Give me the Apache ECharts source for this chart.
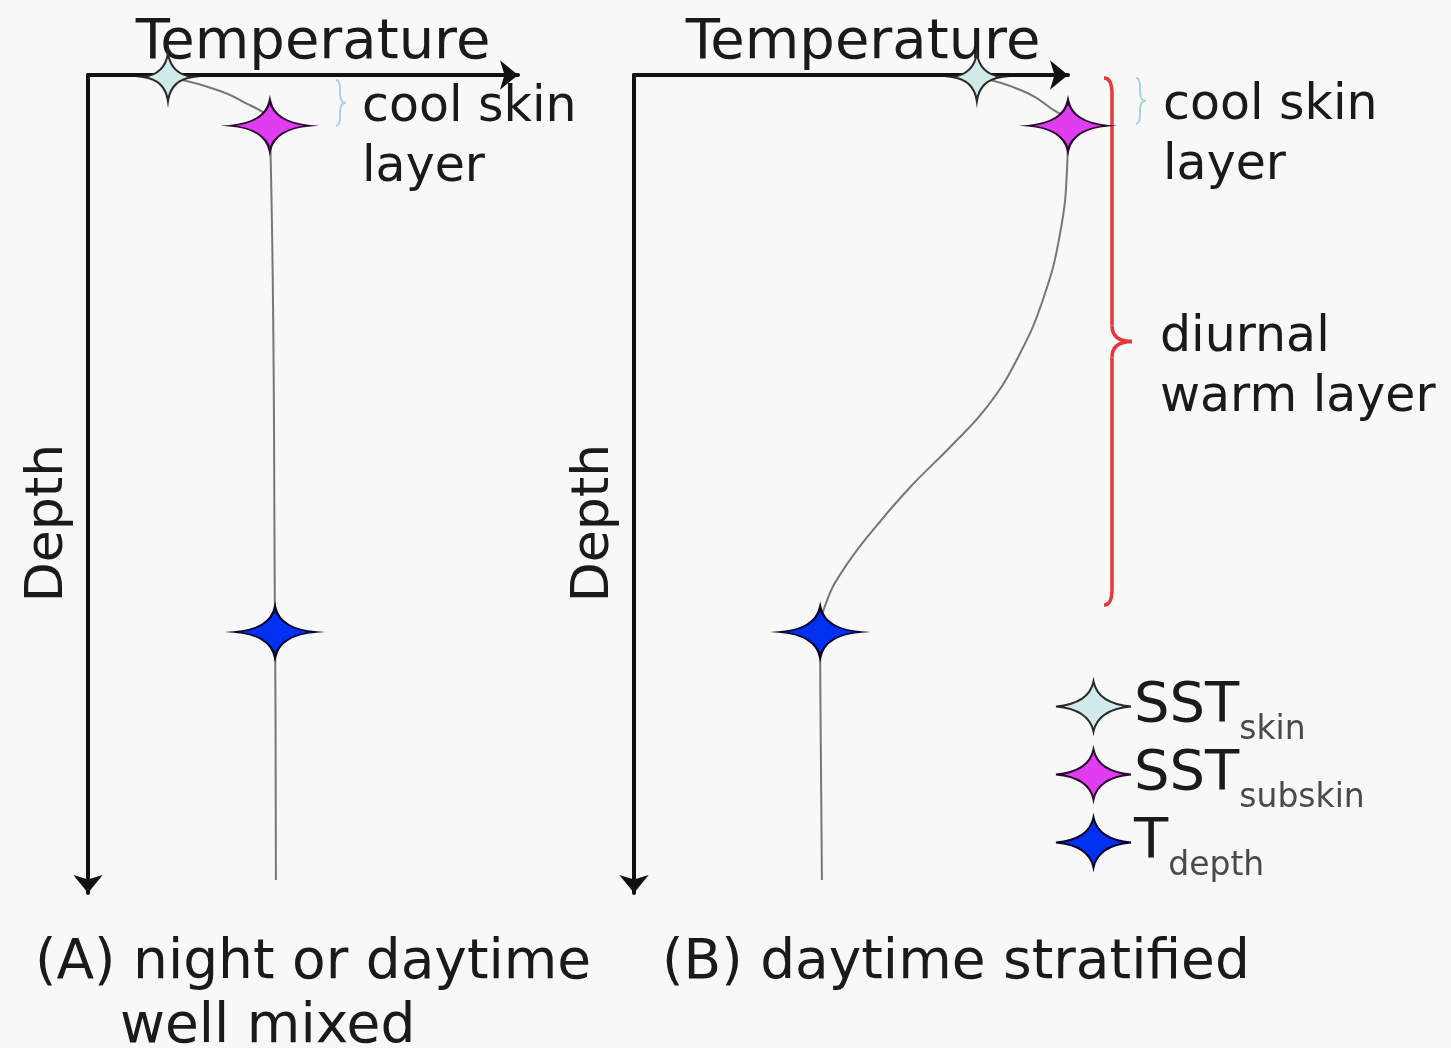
<!DOCTYPE html>
<html>
<head>
<meta charset="utf-8">
<script src="https://cdn.jsdelivr.net/npm/echarts@6/dist/echarts.min.js"></script>
<style>
  html, body { margin: 0; padding: 0; background: #f8f8f8; }
  #main { width: 1451px; height: 1048px; }
</style>
</head>
<body>
<div id="main"></div>
<script>
// profile (A) night / well mixed : temperature vs depth (arbitrary units)
var tempA = [18.6, 27.2, 35.3, 42.3, 43.5, 43.7]
var depthA = [0.25, 1.35, 3.05, 6.2, 68.1, 98.4]

// profile (B) daytime stratified
var tempB = [79.0, 88.9, 95.9, 100, 99.8, 98.2, 94.2, 88.2, 81.3, 72.8, 63.6, 55.1, 48.2, 44.5, 42.9, 43.3]
var depthB = [0.25, 1.8, 4.0, 6.2, 11.2, 19.3, 27.5, 34.8, 40.6, 45.5, 50.4, 55.6, 60.5, 64.2, 68.1, 98.4]

// the three marked temperatures
var markerNames = ['SST_skin', 'SST_subskin', 'T_depth']
var markerTempA = [18.6, 42.3, 43.5]
var markerTempB = [79.0, 100, 42.9]
var markerDepth = [0.25, 6.2, 68.1]

// bottom of the diurnal warm layer
var warmLayerBase = 64.8

var FONT = 'DejaVu Sans'
var STAR = 'path://M0,-1 Q0.12,-0.12 1,0 Q0.12,0.12 0,1 Q-0.12,0.12 -1,0 Q-0.12,-0.12 0,-1 Z'
var starColors = ['#d0eaea', '#e03cf0', '#0030f0']
var starBorders = ['#2a2a2a', '#2a0830', '#050530']
var starSizes = [[50, 48], [80, 50], [82, 50]]

function zip(xs, ys) {
    return xs.map(function (x, i) { return [x, ys[i]] })
}

var chart = echarts.init(document.getElementById('main'))

function xAxisOf(idx, shift) {
    return {
        gridIndex: idx, type: 'value', min: 0, max: 100, position: 'top',
        name: 'Temperature', nameLocation: 'middle', nameGap: 4,
        nameTextStyle: { fontFamily: FONT, fontSize: 56, color: '#1a1a1a', padding: [0, 0, 0, shift] },
        axisLine: { onZero: false, symbol: ['none', 'arrow'], symbolSize: [22, 18],
            lineStyle: { color: '#111', width: 4 } },
        axisTick: { show: false }, axisLabel: { show: false }, splitLine: { show: false }
    }
}
function yAxisOf(idx) {
    return {
        gridIndex: idx, type: 'value', min: 0, max: 100, inverse: true,
        name: 'Depth', nameLocation: 'middle', nameGap: 14,
        nameTextStyle: { fontFamily: FONT, fontSize: 52, color: '#1a1a1a', padding: [0, 78, 0, 0] },
        axisLine: { onZero: false, symbol: ['arrow', 'none'], symbolSize: [22, 18],
            lineStyle: { color: '#111', width: 4 } },
        axisTick: { show: false }, axisLabel: { show: false }, splitLine: { show: false }
    }
}

var series = [
    { type: 'line', xAxisIndex: 0, yAxisIndex: 0, data: zip(tempA, depthA), smooth: 0.4,
      symbol: 'none', clip: false, z: 2, lineStyle: { color: '#777', width: 2 } },
    { type: 'line', xAxisIndex: 1, yAxisIndex: 1, data: zip(tempB, depthB), smooth: 0.45,
      symbol: 'none', clip: false, z: 2, lineStyle: { color: '#777', width: 2 } }
]
markerNames.forEach(function (name, i) {
    var style = { color: starColors[i], borderColor: starBorders[i], borderWidth: 2, opacity: 1 }
    series.push({ type: 'scatter', name: name, xAxisIndex: 0, yAxisIndex: 0, clip: false, z: 3,
        symbol: STAR, symbolSize: starSizes[i], symbolKeepAspect: false, itemStyle: style,
        data: [[markerTempA[i], markerDepth[i]]] })
    series.push({ type: 'scatter', name: name, xAxisIndex: 1, yAxisIndex: 1, clip: false, z: 3,
        symbol: STAR, symbolSize: starSizes[i], symbolKeepAspect: false, itemStyle: style,
        data: [[markerTempB[i], markerDepth[i]]] })
})

var capStyle = { fontFamily: FONT, fontSize: 49, fontWeight: 'normal', color: '#1a1a1a', lineHeight: 60 }
var bigStyle = { fontFamily: FONT, fontSize: 55, fontWeight: 'normal', color: '#1a1a1a' }
var option = {
    backgroundColor: '#f8f8f8',
    animation: false,
    grid: [
        { left: 88, top: 75, width: 430, height: 818 },
        { left: 634, top: 75, width: 434, height: 818 }
    ],
    xAxis: [xAxisOf(0, 20), xAxisOf(1, 24)],
    yAxis: [yAxisOf(0), yAxisOf(1)],
    title: [
        { text: 'cool skin\nlayer', left: 362, top: 78, padding: 0, textStyle: capStyle },
        { text: 'cool skin\nlayer', left: 1163, top: 76, padding: 0, textStyle: capStyle },
        { text: 'diurnal\nwarm layer', left: 1160, top: 308, padding: 0, textStyle: capStyle },
        { text: '(A) night or daytime', left: 35, top: 936, padding: 0, textStyle: bigStyle },
        { text: 'well mixed', left: 120, top: 1000, padding: 0, textStyle: bigStyle },
        { text: '(B) daytime stratified', left: 662, top: 936, padding: 0, textStyle: bigStyle }
    ],
    legend: {
        data: markerNames, orient: 'vertical', left: 1055, top: 666, padding: 0,
        itemWidth: 75, itemHeight: 50, itemGap: -13, selectedMode: false, symbolKeepAspect: false,
        formatter: function (name) {
            var p = name.split('_')
            return '{a|' + p[0] + '}{b|' + p[1] + '}'
        },
        textStyle: {
            fontFamily: FONT, padding: [0, 0, 0, -2],
            rich: {
                a: { fontFamily: FONT, fontSize: 56, lineHeight: 58, color: '#1a1a1a' },
                b: { fontFamily: FONT, fontSize: 33, lineHeight: 36, color: '#4a4a4a', padding: [48, 0, 0, 0] }
            }
        }
    },
    series: series
}
chart.setOption(option)

// braces marking the layers, placed from the depth scale
function brace(x, y0, y1, tip, w, color, width) {
    var ym = (y0 + y1) / 2, r = Math.min(16, (y1 - y0) / 5)
    var st = { fill: null, stroke: color, lineWidth: width }
    function q(x1, y1, cx, cy, x2, y2) {
        return { type: 'bezierCurve', shape: { x1: x1, y1: y1, cpx1: cx, cpy1: cy, x2: x2, y2: y2 }, style: st }
    }
    function l(x1, y1, x2, y2) {
        return { type: 'line', shape: { x1: x1, y1: y1, x2: x2, y2: y2 }, style: st }
    }
    return {
        type: 'group',
        children: [
            q(x - w, y0, x, y0, x, y0 + r),
            l(x, y0 + r, x, ym - r),
            q(x, ym - r, x, ym, x + tip, ym),
            q(x + tip, ym, x, ym, x, ym + r),
            l(x, ym + r, x, y1 - r),
            q(x, y1 - r, x, y1, x - w, y1)
        ]
    }
}
var top0 = chart.convertToPixel({ gridIndex: 0 }, [0, 0])[1] + 3
var skinBot = chart.convertToPixel({ gridIndex: 0 }, [0, markerDepth[1]])[1]
var warmBot = chart.convertToPixel({ gridIndex: 1 }, [0, warmLayerBase])[1]
chart.setOption({
    graphic: [
        brace(340, top0 + 2, skinBot, 6, 4, '#a9d3dc', 2),
        brace(1140, top0, skinBot - 2, 6, 4, '#a9d3dc', 2),
        brace(1112, top0, warmBot, 20, 8, '#e5383b', 3.5)
    ]
})

window.addEventListener('resize', function () {
    chart.resize()
})
</script>
</body>
</html>
